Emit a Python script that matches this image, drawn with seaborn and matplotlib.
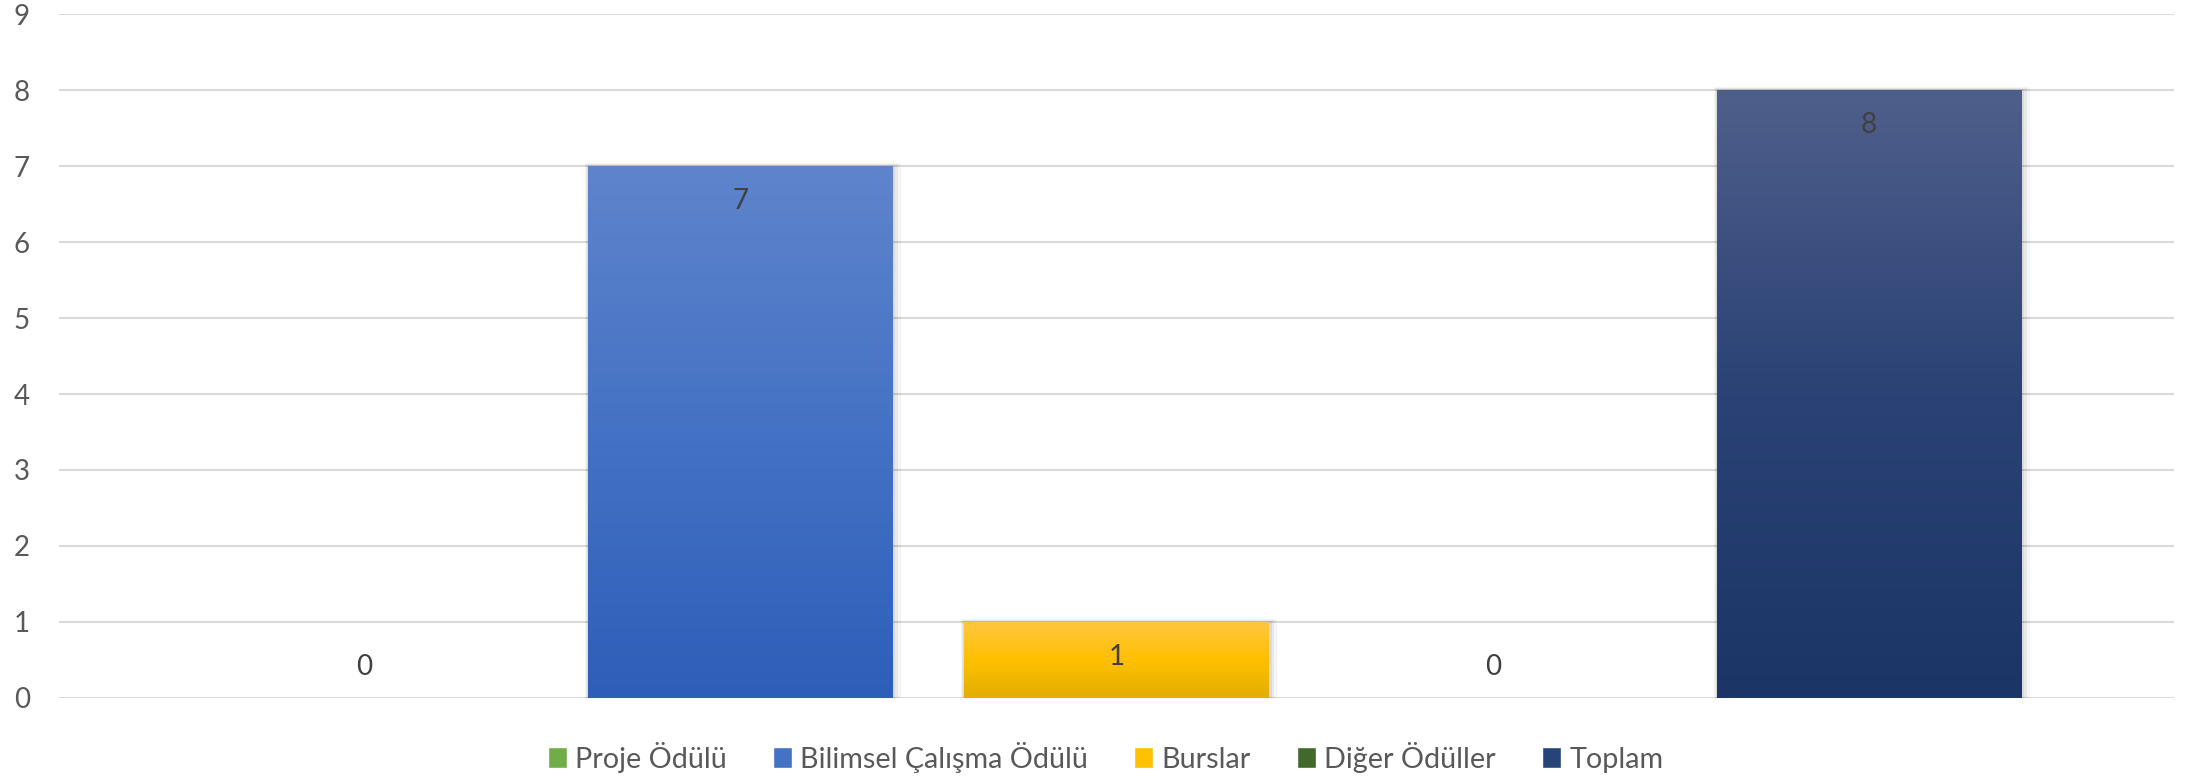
import numpy as np
import pandas as pd
import seaborn as sns
import matplotlib.pyplot as plt
from matplotlib.colors import LinearSegmentedColormap
from matplotlib.patches import Patch

# chart data
series = ['Proje Ödülü', 'Bilimsel Çalışma Ödülü', 'Burslar', 'Diğer Ödüller', 'Toplam']
values = [0, 7, 1, 0, 8]
base_colors = ['#70AD47', '#4472C4', '#FFC000', '#43682B', '#264478']
# top / middle / bottom of each bar gradient
grad_colors = [['#8CC26A', '#70AD47', '#5E9A36'],
               ['#5F84CC', '#4472C4', '#2D5FB9'],
               ['#FFC640', '#FFC000', '#E2AE00'],
               ['#5E7F48', '#43682B', '#375824'],
               ['#4F5F8B', '#2A4275', '#1C3567']]

df = pd.DataFrame({'series': series, 'value': values})

sns.set_style('white')
plt.rcParams['font.family'] = ['Lato', 'DejaVu Sans']

fig = plt.figure(figsize=(21.99, 7.79), dpi=100)
ax = fig.add_axes([0.0268, 0.104, 0.9618, 0.878])

sns.barplot(data=df, x='series', y='value', hue='series', palette=base_colors,
            width=0.81, legend=False, ax=ax, zorder=3, edgecolor='none', linewidth=0)

ax.set_xlim(-0.81, 4.81)
ax.set_ylim(0, 9)
ax.set_yticks(range(0, 10))

# replace flat fill with vertical gradient + soft shadow
grad = np.linspace(1, 0, 256).reshape(-1, 1)
for bar, cols in zip(ax.patches, grad_colors):
    x0, y0 = bar.get_x(), bar.get_y()
    w, h = bar.get_width(), bar.get_height()
    if h <= 0:
        continue
    for k, a in enumerate([0.06, 0.05, 0.04]):
        d = 0.006 * (k + 1)
        ax.add_patch(plt.Rectangle((x0 - d * 0.4, y0), w + d * 1.6, h + d * 2,
                                   facecolor='black', alpha=a, lw=0, zorder=2))
    cm = LinearSegmentedColormap.from_list('g', cols[::-1])
    im = ax.imshow(grad, cmap=cm, aspect='auto', extent=[x0, x0 + w, y0, y0 + h],
                   zorder=4, interpolation='bicubic')
    im.set_clip_path(bar)

ax.set_xlim(-0.81, 4.81)
ax.set_ylim(0, 9)

# value labels
for i, v in enumerate(values):
    off = -35 if v > 0 else 31
    ax.annotate(str(v), (i, v), xytext=(0, off), textcoords='offset pixels',
                ha='center', va='center', fontsize=20, color='#404040', zorder=6)

ax.grid(axis='y', color='#D9D9D9', linewidth=1.5, zorder=0)
ax.set_axisbelow(True)
for s in ax.spines.values():
    s.set_visible(False)
ax.set_xticks([])
ax.set_xlabel('')
ax.set_ylabel('')
ax.tick_params(axis='y', length=0, pad=21, labelsize=20, labelcolor='#595959')

legend_patches = [Patch(facecolor=c, label=s) for c, s in zip(base_colors, series)]
ax.legend(handles=legend_patches, loc='center', bbox_to_anchor=(0.5028, 0.0282),
          bbox_transform=fig.transFigure, ncol=5, frameon=False, fontsize=20.7,
          labelcolor='#595959', handlelength=0.65, handleheight=0.75,
          handletextpad=0.3, columnspacing=1.6)

plt.savefig('out.png', dpi=100)
